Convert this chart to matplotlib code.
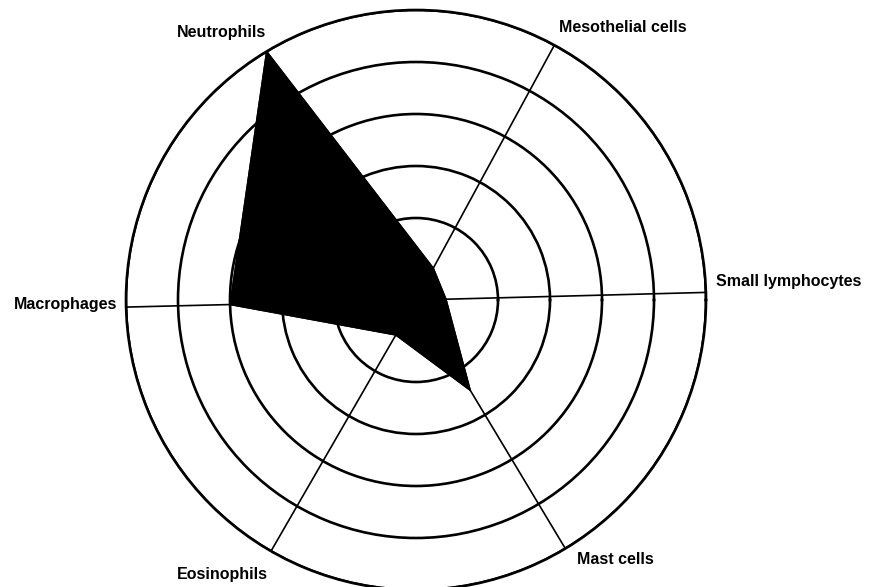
import numpy as np
import matplotlib
matplotlib.use("Agg")
import matplotlib.pyplot as plt

# cell types, counter-clockwise from the right
categories = ["Small lymphocytes", "Mesothelial cells", "Neutrophils",
              "Macrophages", "Eosinophils", "Mast cells"]
angles_deg = [1.5, 61.5, 121.0, 181.4, 240.0, 301.0]
values = [0.0, 0.12, 5.0, 3.0, 0.2, 1.45]
rings = [1, 2, 3, 4, 5]
OFFSET = 0.577  # ring 0 sits a little off the centre

W, H = 871, 587
CX, CY, R = 416, 300, 290  # center and outer radius in pixels

fig = plt.figure(figsize=(W / 100, H / 100), dpi=100)
ax = fig.add_axes([(CX - R) / W, (H - CY - R) / H, 2 * R / W, 2 * R / H],
                  projection="polar")

theta = np.deg2rad(angles_deg)
ax.set_ylim(0, 5 + OFFSET)
ax.set_yticks(np.array(rings) + OFFSET)
ax.set_yticklabels([])
ax.set_xticks(theta)
ax.set_xticklabels([])
ax.tick_params(length=0)
ax.grid(True, color="black")
for gl in ax.yaxis.get_gridlines():
    gl.set_linewidth(1.9)
for gl in ax.xaxis.get_gridlines():
    gl.set_linewidth(1.2)
ax.spines["polar"].set_linewidth(1.9)
ax.spines["polar"].set_color("black")

t = np.append(theta, theta[0])
v = np.append(values, values[0]) + OFFSET
ax.fill(t, v, color="black", zorder=3)
ax.plot(t, v, color="black", lw=1, zorder=3)

# labels (pixel positions from the reference)
font = dict(family=["Liberation Sans", "DejaVu Sans"], weight="bold",
            fontsize=11.5, color="black")
labels = {
    "Neutrophils": (221, 32, "center"),
    "Mesothelial cells": (623, 27, "center"),
    "Small lymphocytes": (716, 282, "left"),
    "Macrophages": (117, 304, "right"),
    "Eosinophils": (222, 574, "center"),
    "Mast cells": (577, 559, "left"),
}
for name, (x, y, ha) in labels.items():
    fig.text(x / W, 1 - y / H, name, ha=ha, va="center", **font)

fig.savefig("out.png", dpi=100)
